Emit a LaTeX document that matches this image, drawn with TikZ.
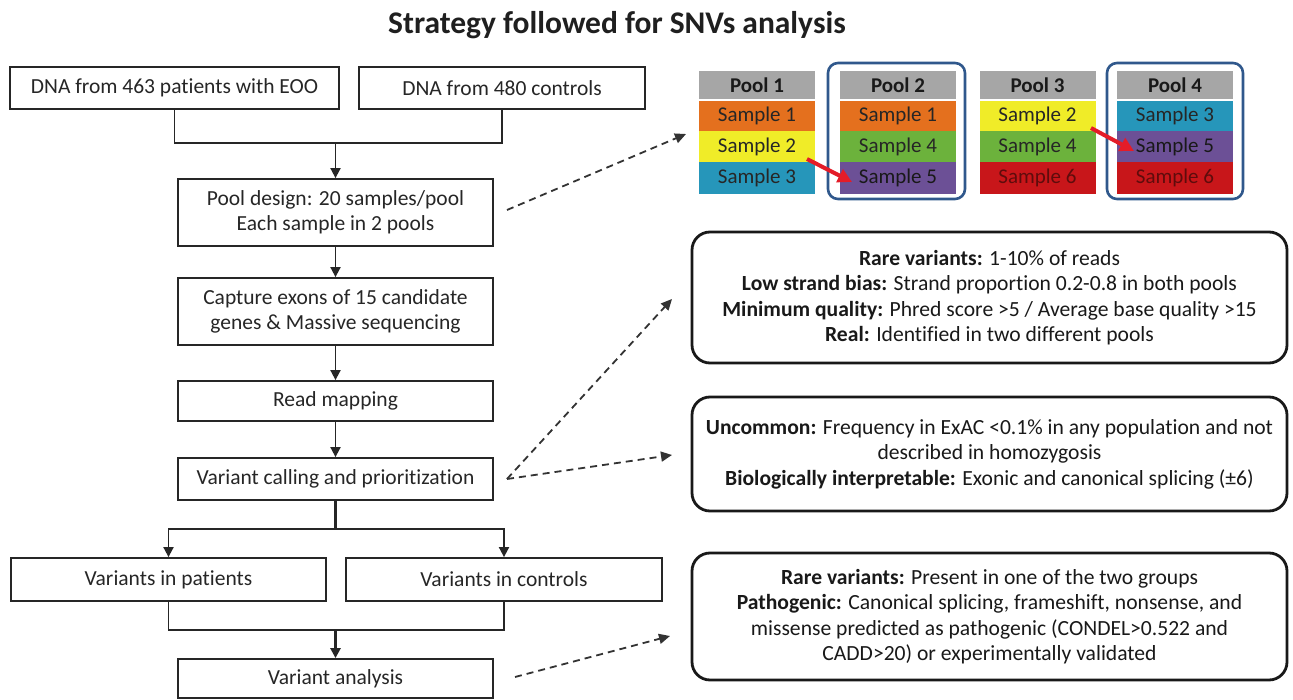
\documentclass[tikz,border=0pt]{standalone}
\usepackage{fontspec}
\setmainfont{Carlito}[Ligatures={NoCommon}]
\usetikzlibrary{arrows.meta}
\definecolor{headc}{RGB}{166,166,166}
\definecolor{orangec}{RGB}{228,112,30}
\definecolor{yellowc}{RGB}{240,236,40}
\definecolor{tealc}{RGB}{38,150,186}
\definecolor{greenc}{RGB}{108,178,60}
\definecolor{purplec}{RGB}{108,80,150}
\definecolor{redc}{RGB}{200,22,26}
\definecolor{framec}{RGB}{48,88,140}
\definecolor{redarrc}{RGB}{228,28,40}
\definecolor{darkred}{RGB}{95,12,12}
\newcommand\boxfont{\fontsize{21.5}{25}\selectfont}
\newcommand\rfont{\fontsize{21.6}{25.5}\selectfont}
\newcommand\poolfont{\fontsize{21}{24}\selectfont}
\newcommand\poolbold{\fontsize{21}{24}\selectfont\bfseries}
\newcommand\titlefont{\fontsize{31.5}{36}\selectfont\bfseries}
\tikzset{
 fbox/.style={draw=black!85, line width=1.8pt, inner sep=0pt, align=center, font=\boxfont, text=black!85},
 rbox/.style={draw=black!90, line width=2.8pt, rounded corners=18pt, inner sep=0pt, align=center, font=\rfont, text=black!90},
 conn/.style={line width=1.8pt, draw=black!85},
 arr/.style={conn, -{Triangle[length=10pt,width=10pt]}},
 darr/.style={line width=1.8pt, draw=black!80, dash pattern=on 7pt off 5pt, -{Triangle[length=11pt,width=10pt]}},
 cell/.style={minimum width=116pt, inner sep=0pt, font=\poolfont, text=black!85},
 hcell/.style={cell, fill=headc, minimum height=28pt, font=\poolbold, text=black!90},
 poolframe/.style={draw=framec, line width=2.6pt, rounded corners=10pt, inner sep=0pt},
 redarr/.style={draw=redarrc, line width=4pt, -{Triangle[length=14pt,width=14pt]}},
}
\begin{document}
\begin{tikzpicture}[x=1pt,y=-1pt]
\useasboundingbox (0,0) rectangle (1293,700);
\fill[white] (0,0) rectangle (1293,700);

% title
\node[font=\titlefont, text=black!88] (title) at (617,25) {Strategy followed for SNVs analysis};

% left flow
\node[fbox, minimum width=329pt, minimum height=42pt] (dnap) at (174.5,88) {DNA from 463 patients with EOO};
\node[fbox, minimum width=286pt, minimum height=42pt] (dnac) at (502,88) {DNA from 480 controls};
\node[fbox, minimum width=315pt, minimum height=67pt] (pool) at (335.5,212.5) {Pool design: 20 samples/pool\\Each sample in 2 pools};
\node[fbox, minimum width=315pt, minimum height=67pt] (cap) at (335.5,311.5) {Capture exons of 15 candidate\\genes \& Massive sequencing};
\node[fbox, minimum width=315pt, minimum height=40pt] (read) at (335.5,401) {Read mapping};
\node[fbox, minimum width=315pt, minimum height=42pt] (call) at (335.5,479) {Variant calling and prioritization};
\node[fbox, minimum width=315pt, minimum height=43pt] (vp) at (168.5,579.5) {Variants in patients};
\node[fbox, minimum width=316pt, minimum height=43pt] (vc) at (504,579.5) {Variants in controls};
\node[fbox, minimum width=315pt, minimum height=39pt] (va) at (335.5,678.5) {Variant analysis};

\coordinate (j1) at (335.5,143);
\coordinate (j2) at (335.5,529);
\coordinate (j3) at (335.5,630);
\draw[conn] (dnap.south) -- (dnap.south |- j1) -- (dnac.south |- j1) -- (dnac.south);
\draw[arr] (j1) -- (pool.north);
\draw[arr] (pool.south) -- (cap.north);
\draw[arr] (cap.south) -- (read.north);
\draw[arr] (read.south) -- (call.north);
\draw[conn, line width=2.6pt] (call.south) -- (j2);
\draw[arr] (j2) -- (vp.north |- j2) -- (vp.north);
\draw[arr] (j2) -- (vc.north |- j2) -- (vc.north);
\draw[conn] (vp.south) -- (vp.south |- j3) -- (vc.south |- j3) -- (vc.south);
\draw[arr, line width=2.6pt] (j3) -- (va.north);

% pools
\node[poolframe, minimum width=137pt, minimum height=136pt] (F2) at (896.5,131) {};
\node[poolframe, minimum width=136pt, minimum height=136pt] (F4) at (1175,131) {};

\node[hcell] (P1h) at (757,85) {Pool 1};
\node[cell, fill=orangec, minimum height=30pt] (P1a) at (757,116) {Sample 1};
\node[cell, fill=yellowc, minimum height=31pt] (P1b) at (757,146.5) {Sample 2};
\node[cell, fill=tealc, minimum height=32pt] (P1c) at (757,178) {Sample 3};

\node[hcell] (P2h) at (898,85) {Pool 2};
\node[cell, fill=orangec, minimum height=30pt] (P2a) at (898,116) {Sample 1};
\node[cell, fill=greenc, minimum height=31pt] (P2b) at (898,146.5) {Sample 4};
\node[cell, fill=purplec, minimum height=32pt, text=black!90] (P2c) at (898,178) {Sample 5};

\node[hcell] (P3h) at (1037.5,85) {Pool 3};
\node[cell, fill=yellowc, minimum height=30pt] (P3a) at (1037.5,116) {Sample 2};
\node[cell, fill=greenc, minimum height=31pt] (P3b) at (1037.5,146.5) {Sample 4};
\node[cell, fill=redc, minimum height=32pt, text=darkred] (P3c) at (1037.5,178) {Sample 6};

\node[hcell] (P4h) at (1175,85) {Pool 4};
\node[cell, fill=tealc, minimum height=30pt] (P4a) at (1175,116) {Sample 3};
\node[cell, fill=purplec, minimum height=31pt, text=black!90] (P4b) at (1175,146.5) {Sample 5};
\node[cell, fill=redc, minimum height=32pt, text=darkred] (P4c) at (1175,178) {Sample 6};

\coordinate (ra1) at (807,159);
\coordinate (ra1e) at (852,182);
\coordinate (ra2) at (1091,128);
\coordinate (ra2e) at (1134,151);
\draw[redarr] (ra1) -- (ra1e);
\draw[redarr] (ra2) -- (ra2e);

% right boxes
\node[rbox, minimum width=595pt, minimum height=131pt] (r1) at (989.5,297.5)
 {\textbf{Rare variants:} 1-10\% of reads\\
  \textbf{Low strand bias:} Strand proportion 0.2-0.8 in both pools\\
  \textbf{Minimum quality:} Phred score >5 / Average base quality >15\\
  \textbf{Real:} Identified in two different pools};
\node[rbox, minimum width=595pt, minimum height=114pt] (r2) at (989.5,454)
 {\textbf{Uncommon:} Frequency in ExAC <0.1\% in any population and not\\
  described in homozygosis\\
  \textbf{Biologically interpretable:} Exonic and canonical splicing (±6)};
\node[rbox, minimum width=595pt, minimum height=127pt] (r3) at (989.5,616.5)
 {\textbf{Rare variants:} Present in one of the two groups\\
  \textbf{Pathogenic:} Canonical splicing, frameshift, nonsense, and\\
  missense predicted as pathogenic (CONDEL>0.522 and\\
  CADD>20) or experimentally validated};

% dashed arrows
\coordinate (d1s) at (507,210);
\coordinate (d1e) at (686,134);
\coordinate (d2s) at (507,479);
\coordinate (d2e) at (672,299);
\coordinate (d3e) at (672,455);
\coordinate (d4s) at (515,677);
\coordinate (d4e) at (670,636);
\draw[darr] (d1s) -- (d1e);
\draw[darr] (d2s) -- (d2e);
\draw[darr] (d2s) -- (d3e);
\draw[darr] (d4s) -- (d4e);
\end{tikzpicture}
\end{document}
